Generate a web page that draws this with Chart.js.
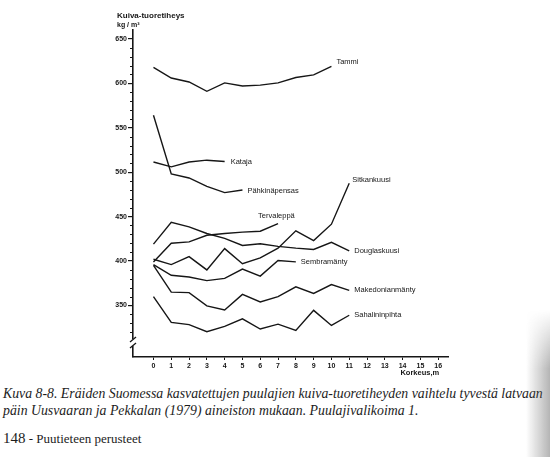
<!DOCTYPE html>
<html>
<head>
<meta charset="utf-8">
<script src="https://cdn.jsdelivr.net/npm/chart.js@4.4.0/dist/chart.umd.min.js"></script>
<style>
html,body{margin:0;padding:0;background:#fff;width:550px;height:457px;overflow:hidden;}
#wrap{position:absolute;left:0;top:0;width:550px;height:380px;}
#cap{position:absolute;left:3px;top:385px;font-family:"Liberation Serif","DejaVu Serif",serif;font-style:italic;font-size:13.8px;line-height:17px;white-space:nowrap;color:#1c1c1c;}
#foot{position:absolute;left:3px;top:430px;font-family:"Liberation Serif","DejaVu Serif",serif;font-size:13px;white-space:nowrap;color:#1c1c1c;}
#foot b{font-weight:normal;font-size:15px;}
#shade{position:absolute;right:0;top:310px;width:24px;height:147px;
  background:linear-gradient(to right,rgba(120,120,120,0),rgba(90,90,90,0.45));
  -webkit-mask-image:linear-gradient(to bottom,transparent,#000 40%);mask-image:linear-gradient(to bottom,transparent,#000 40%);}
</style>
</head>
<body>
<div id="wrap"><canvas id="c"></canvas></div>
<div id="cap">Kuva 8-8. Eräiden Suomessa kasvatettujen puulajien kuiva-tuoretiheyden vaihtelu tyvestä latvaan<br>päin Uusvaaran ja Pekkalan (1979) aineiston mukaan. Puulajivalikoima 1.</div>
<div id="foot"><b>148</b> - Puutieteen perusteet</div>
<div id="shade"></div>
<script>
// korkeus, m
const heights = [0,1,2,3,4,5,6,7,8,9,10,11];
const xTicks = [0,1,2,3,4,5,6,7,8,9,10,11,12,13,14,15,16];
const yMajor = [350,400,450,500,550,600,650];

// kuiva-tuoretiheys kg/m3
const tammi = [618,606,601.5,591,600.5,597,598,600.5,606.5,609.5,619];
const pahkinapensas = [564,498,493.5,484,477,480];
const kataja = [511.5,506,511.5,513.5,512];
const sitkankuusi = [402,396,405,390,414,397,403.5,414.5,434,423,441.5,487.5];
const tervaleppa = [399,420,421.5,429,431,432.5,433.5,442];
const douglaskuusi = [419,443.5,438.5,431,425.5,417.5,419.5,416.5,414.5,413,421,411.5];
const sembramanty = [396,384,382,378,380.5,391,383,400.5,399];
const makedonianmanty = [395,365,364.5,349.5,345,362.5,354,360,371,363.5,373.5,367];
const sahalininpihta = [360,331,328.5,320.5,326.5,335,323.5,329,322,344.5,327.5,339];

const yMinor = [];
for(let v=320; v<=650; v+=10) if(v%50) yMinor.push(v);

const series = [
  {name:'Tammi', vals:tammi, dx:5, dy:-4},
  {name:'Kataja', vals:kataja, dx:6, dy:0},
  {name:'Pähkinäpensas', vals:pahkinapensas, dx:5, dy:1},
  {name:'Sitkankuusi', vals:sitkankuusi, dx:3, dy:-3},
  {name:'Tervaleppä', vals:tervaleppa, dx:-20, dy:-8},
  {name:'Douglaskuusi', vals:douglaskuusi, dx:5, dy:0},
  {name:'Sembramänty', vals:sembramanty, dx:5, dy:0},
  {name:'Makedonianmänty', vals:makedonianmanty, dx:5, dy:0},
  {name:'Sahalininpihta', vals:sahalininpihta, dx:5, dy:0}
];

const ink = '#161616';
const sans = '"Liberation Sans", Arial, sans-serif';

const decor = {
  id:'decor',
  afterDraw(chart){
    const ctx = chart.ctx, xs = chart.scales.x, ys = chart.scales.y;
    const ax = xs.left;
    ctx.save();
    // minor ticks
    ctx.strokeStyle = ink; ctx.lineWidth = 1;
    yMinor.forEach(v=>{
      const py = Math.round(ys.getPixelForValue(v))+0.5;
      ctx.beginPath(); ctx.moveTo(ax-3, py); ctx.lineTo(ax, py); ctx.stroke();
    });
    // axis break
    ctx.fillStyle = '#fff';
    ctx.fillRect(ax-4, 339, 8, 7);
    ctx.lineWidth = 1.3;
    ctx.beginPath(); ctx.moveTo(ax-3, 342); ctx.lineTo(ax+3, 337); ctx.stroke();
    ctx.beginPath(); ctx.moveTo(ax-3, 348); ctx.lineTo(ax+3, 343); ctx.stroke();
    // axis titles
    ctx.fillStyle = ink;
    ctx.font = 'bold 8px ' + sans;
    ctx.textBaseline = 'middle'; ctx.textAlign = 'left';
    ctx.fillText('Kuiva-tuoretiheys', 117, 16);
    ctx.font = 'bold 7px ' + sans;
    ctx.fillText('kg / m³', 117, 25);
    ctx.textAlign = 'right';
    ctx.font = 'bold 7.5px ' + sans;
    ctx.fillText('Korkeus,m', xs.getPixelForValue(16)+1, 373);
    // series labels
    ctx.textAlign = 'left';
    ctx.font = '7.5px ' + sans;
    chart.data.datasets.forEach((ds,i)=>{
      const pts = chart.getDatasetMeta(i).data;
      const p = pts[pts.length-1];
      ctx.fillText(ds.label, p.x + series[i].dx, p.y + series[i].dy);
    });
    ctx.restore();
  }
};

new Chart(document.getElementById('c'), {
  type:'line',
  data:{
    datasets: series.map(s=>({
      label:s.name,
      data:s.vals.map((v,i)=>({x:heights[i], y:v})),
      borderColor:ink, borderWidth:1.4, pointRadius:0, tension:0, fill:false
    }))
  },
  options:{
    responsive:true, maintainAspectRatio:false, animation:false,
    layout:{padding:{left:93, top:30, right:102, bottom:3}},
    plugins:{legend:{display:false}, tooltip:{enabled:false}},
    scales:{
      x:{
        type:'linear', min:-1.15, max:16.55,
        afterFit(s){ s.height = 20; },
        afterBuildTicks(s){ s.ticks = xTicks.map(v=>({value:v})); },
        grid:{drawOnChartArea:false, tickLength:3, color:ink, lineWidth:1},
        border:{display:true, color:ink, width:1.6},
        ticks:{color:ink, padding:2, maxRotation:0, autoSkip:false, font:{family:sans, size:7, weight:'bold'}}
      },
      y:{
        type:'linear', min:292, max:660,
        afterFit(s){ s.width = 40; },
        afterBuildTicks(s){ s.ticks = yMajor.map(v=>({value:v})); },
        grid:{drawOnChartArea:false, tickLength:5, color:ink, lineWidth:1.2},
        border:{display:true, color:ink, width:1.6},
        ticks:{color:ink, padding:1, font:{family:sans, size:7, weight:'bold'}}
      }
    }
  },
  plugins:[decor]
});
</script>
</body>
</html>
